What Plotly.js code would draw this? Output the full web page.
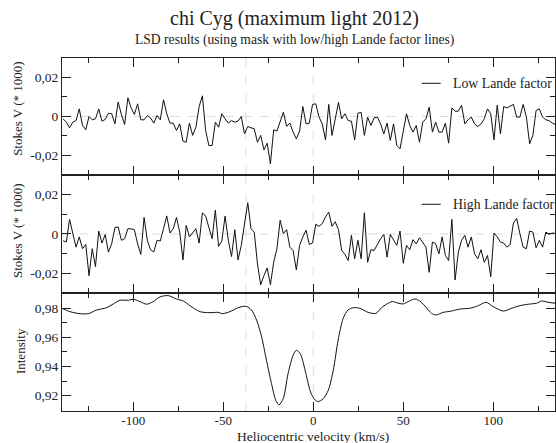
<!DOCTYPE html>
<html>
<head>
<meta charset="utf-8">
<script src="https://cdn.plot.ly/plotly-3.0.1.min.js"></script>
<style>html,body{margin:0;padding:0;background:#fff;}#chart{width:556px;height:443px;}</style>
</head>
<body>
<div id="chart"></div>
<script>
// ---- data ----
const velocity = [-139.0,-137.2,-135.4,-133.6,-131.8,-130.0,-128.2,-126.4,-124.6,-122.8,-121.0,-119.2,-117.4,-115.6,-113.8,-112.0,-110.2,-108.4,-106.6,-104.8,-103.0,-101.2,-99.4,-97.6,-95.8,-94.0,-92.2,-90.4,-88.6,-86.8,-85.0,-83.2,-81.4,-79.6,-77.8,-76.0,-74.2,-72.4,-70.6,-68.8,-67.0,-65.2,-63.4,-61.6,-59.8,-58.0,-56.2,-54.4,-52.6,-50.8,-49.0,-47.2,-45.4,-43.6,-41.8,-40.0,-38.2,-36.4,-34.6,-32.8,-31.0,-29.2,-27.4,-25.6,-23.8,-22.0,-20.2,-18.4,-16.6,-14.8,-13.0,-11.2,-9.4,-7.6,-5.8,-4.0,-2.2,-0.4,1.4,3.2,5.0,6.8,8.6,10.4,12.2,14.0,15.8,17.6,19.4,21.2,23.0,24.8,26.6,28.4,30.2,32.0,33.8,35.6,37.4,39.2,41.0,42.8,44.6,46.4,48.2,50.0,51.8,53.6,55.4,57.2,59.0,60.8,62.6,64.4,66.2,68.0,69.8,71.6,73.4,75.2,77.0,78.8,80.6,82.4,84.2,86.0,87.8,89.6,91.4,93.2,95.0,96.8,98.6,100.4,102.2,104.0,105.8,107.6,109.4,111.2,113.0,114.8,116.6,118.4,120.2,122.0,123.8,125.6,127.4,129.2,131.0,132.8,134.6];

const lowLande = [-0.0012,-0.0029,-0.0058,-0.0029,-0.0021,0.0039,-0.0046,-0.0068,0.0000,-0.0017,-0.0012,0.0039,-0.0024,-0.0015,0.0017,0.0014,-0.0038,0.0074,0.0010,-0.0041,0.0096,0.0044,0.0010,0.0065,-0.0017,-0.0017,0.0005,-0.0007,-0.0034,0.0005,-0.0017,0.0086,0.0014,-0.0034,-0.0034,-0.0072,-0.0038,-0.0127,-0.0132,-0.0034,-0.0097,-0.0055,0.0051,0.0106,-0.0072,-0.0149,-0.0149,-0.0029,-0.0055,0.0014,-0.0012,-0.0034,-0.0021,-0.0029,-0.0024,0.0000,-0.0089,-0.0051,-0.0058,-0.0063,-0.0132,-0.0097,-0.0171,-0.0137,-0.0243,-0.0068,-0.0075,-0.0029,0.0022,-0.0051,-0.0034,-0.0080,-0.0115,-0.0075,0.0051,-0.0038,-0.0034,0.0062,0.0065,-0.0003,-0.0038,-0.0120,0.0062,-0.0097,-0.0003,0.0072,-0.0012,0.0014,-0.0021,-0.0024,-0.0120,0.0017,0.0021,-0.0097,-0.0003,-0.0046,-0.0007,-0.0003,-0.0038,-0.0089,-0.0034,-0.0123,-0.0038,-0.0149,-0.0166,-0.0080,0.0014,-0.0046,-0.0080,-0.0046,-0.0132,-0.0029,-0.0012,0.0048,-0.0080,-0.0029,-0.0080,-0.0080,-0.0034,-0.0137,0.0044,0.0027,0.0027,0.0058,-0.0038,-0.0017,-0.0003,-0.0038,-0.0051,-0.0038,-0.0012,0.0039,0.0014,-0.0120,0.0058,-0.0089,0.0051,0.0044,0.0051,0.0062,-0.0003,-0.0003,0.0062,-0.0003,-0.0140,-0.0097,0.0031,0.0039,-0.0003,-0.0017,-0.0021,-0.0034,-0.0041];

const highLande = [-0.0034,-0.0041,0.0074,0.0002,-0.0067,-0.0015,-0.0075,-0.0053,-0.0212,-0.0075,-0.0166,0.0015,-0.0046,-0.0003,-0.0092,-0.0050,0.0032,0.0036,-0.0032,-0.0024,0.0027,0.0026,0.0022,-0.0050,-0.0104,0.0084,-0.0032,-0.0080,-0.0092,-0.0032,-0.0036,0.0027,0.0092,0.0005,0.0027,0.0084,0.0010,-0.0132,0.0044,-0.0015,0.0005,0.0027,-0.0046,0.0108,0.0091,0.0039,-0.0024,0.0121,-0.0063,-0.0036,0.0091,-0.0032,-0.0115,0.0022,-0.0132,-0.0058,0.0044,0.0159,0.0027,0.0010,-0.0152,-0.0258,-0.0212,-0.0173,-0.0258,-0.0144,-0.0075,0.0070,0.0002,0.0022,-0.0067,-0.0084,-0.0183,-0.0058,-0.0015,0.0019,-0.0053,-0.0046,0.0050,0.0039,0.0053,0.0087,0.0111,0.0039,0.0062,0.0022,-0.0084,-0.0104,-0.0135,-0.0007,-0.0126,-0.0032,-0.0126,0.0108,-0.0144,-0.0080,-0.0084,-0.0053,-0.0024,-0.0002,-0.0118,-0.0002,-0.0032,-0.0058,0.0015,-0.0149,-0.0058,-0.0080,-0.0029,-0.0050,-0.0019,-0.0046,-0.0067,-0.0195,-0.0041,-0.0050,-0.0101,-0.0015,-0.0109,-0.0135,0.0074,-0.0234,-0.0092,-0.0032,-0.0007,-0.0067,-0.0015,-0.0101,-0.0126,-0.0080,-0.0144,-0.0109,-0.0217,0.0005,-0.0015,-0.0041,-0.0046,-0.0067,-0.0053,0.0056,0.0079,0.0002,-0.0067,-0.0075,0.0015,0.0010,-0.0070,-0.0032,-0.0067,0.0010,-0.0002,0.0005,0.0002];

const intensityVelocity = [-139.6,-135.2,-129.6,-125.0,-120.4,-114.8,-111.1,-107.4,-102.8,-100.0,-96.3,-92.6,-88.9,-85.2,-80.6,-76.0,-72.2,-68.5,-63.0,-57.4,-52.8,-50.4,-46.3,-41.7,-37.4,-34.3,-31.5,-28.7,-26.0,-23.2,-20.8,-19.0,-16.7,-14.0,-11.2,-9.3,-7.1,-4.1,-1.5,0.9,2.7,5.5,8.3,11.1,13.8,16.6,19.4,22.2,25.9,30.5,34.8,37.9,40.7,44.0,47.2,50.0,53.3,56.5,59.2,62.9,65.7,68.1,72.2,76.8,81.5,87.0,91.7,95.9,100.0,105.6,110.2,114.8,119.5,124.1,126.9,130.6,134.3];
const intensity = [0.9800,0.9777,0.9763,0.9763,0.9788,0.9804,0.9830,0.9855,0.9855,0.9862,0.9846,0.9828,0.9846,0.9878,0.9887,0.9864,0.9850,0.9818,0.9777,0.9770,0.9772,0.9763,0.9777,0.9804,0.9814,0.9788,0.9719,0.9604,0.9443,0.9283,0.9167,0.9138,0.9179,0.9352,0.9478,0.9512,0.9485,0.9352,0.9225,0.9172,0.9160,0.9179,0.9236,0.9374,0.9581,0.9730,0.9790,0.9804,0.9800,0.9772,0.9765,0.9804,0.9828,0.9846,0.9835,0.9830,0.9850,0.9864,0.9850,0.9804,0.9765,0.9754,0.9772,0.9781,0.9795,0.9800,0.9818,0.9841,0.9811,0.9781,0.9800,0.9818,0.9828,0.9835,0.9850,0.9841,0.9835];

const refVelocities = [-37.4, 0];
const xTickVals = [-100, -50, 0, 50, 100];
const xTickText = ['-100', '-50', '0', '50', '100'];
const stokesTickVals = [-0.02, 0, 0.02];
const stokesTickText = ['-0,02', '0', '0,02'];
const intTickVals = [0.92, 0.94, 0.96, 0.98];
const intTickText = ['0,92', '0,94', '0,96', '0,98'];
const legendLabels = ['Low Lande factor', 'High Lande factor'];

// ---- figure ----
const FONT = 'Liberation Serif, Times New Roman, Times, serif';
const TXT = '#222';
const LINE = {color: '#111', width: 1};

const traces = [
  {x: velocity, y: lowLande, xaxis: 'x3', yaxis: 'y3', mode: 'lines', line: LINE, name: legendLabels[0], showlegend: false, hoverinfo: 'skip'},
  {x: velocity, y: highLande, xaxis: 'x2', yaxis: 'y2', mode: 'lines', line: LINE, name: legendLabels[1], showlegend: false, hoverinfo: 'skip'},
  {x: intensityVelocity, y: intensity, xaxis: 'x', yaxis: 'y', mode: 'lines', line: {color: '#111', width: 1, shape: 'spline', smoothing: 0.8}, name: 'Intensity', showlegend: false, hoverinfo: 'skip'}
];

const XRANGE = [-139.6, 134.3];
function xAxis(anchor, labels) {
  return {
    range: XRANGE, anchor: anchor, showgrid: false, zeroline: false,
    showline: true, linecolor: '#222', linewidth: 1, mirror: 'allticks',
    ticks: 'inside', ticklen: 9, tickwidth: 1, tickcolor: '#222',
    tickmode: 'array', tickvals: xTickVals, ticktext: xTickText,
    showticklabels: labels, tickfont: {family: FONT, size: 13, color: TXT},
    ticklabelstandoff: -3,
    minor: {ticks: 'inside', ticklen: 5, tickwidth: 1, tickcolor: '#222', tick0: 0, dtick: 25, showgrid: false}
  };
}
function yAxis(anchor, domain, range, vals, text, minorDtick, minorTick0) {
  return {
    domain: domain, range: range, anchor: anchor, showgrid: false, zeroline: false,
    showline: true, linecolor: '#222', linewidth: 1, mirror: 'allticks',
    ticks: 'inside', ticklen: 9, tickwidth: 1, tickcolor: '#222',
    tickmode: 'array', tickvals: vals, ticktext: text,
    tickfont: {family: FONT, size: 13.5, color: TXT},
    minor: {ticks: 'inside', ticklen: 5, tickwidth: 1, tickcolor: '#222', tick0: minorTick0, dtick: minorDtick, showgrid: false}
  };
}

const shapes = [];
[['x', 'y'], ['x2', 'y2'], ['x3', 'y3']].forEach(function (p) {
  refVelocities.forEach(function (v) {
    shapes.push({type: 'line', layer: 'below', xref: p[0], x0: v, x1: v, yref: p[1] + ' domain', y0: 0, y1: 1,
      line: {color: '#dcdcdc', width: 1, dash: 'dash'}});
  });
});
['2', '3'].forEach(function (n) {
  shapes.push({type: 'line', layer: 'below', xref: 'x' + n + ' domain', x0: 0, x1: 1, yref: 'y' + n, y0: 0, y1: 0,
    line: {color: '#dcdcdc', width: 1, dash: 'dash'}});
});
// legend samples
const legendY = [0.9283, 0.5856];
legendY.forEach(function (yy) {
  shapes.push({type: 'line', xref: 'paper', yref: 'paper', x0: 0.7296, x1: 0.7682, y0: yy, y1: yy, line: {color: '#111', width: 1}});
});

const annotations = [
  {text: 'chi Cyg (maximum light 2012)', xref: 'paper', yref: 'paper', x: 0.4726, y: 1.113, xanchor: 'center', yanchor: 'middle', showarrow: false, font: {family: FONT, size: 20, color: TXT}},
  {text: 'LSD results (using mask with low/high Lande factor lines)', xref: 'paper', yref: 'paper', x: 0.4726, y: 1.051, xanchor: 'center', yanchor: 'middle', showarrow: false, font: {family: FONT, size: 13.6, color: TXT}},
  {text: 'Stokes V (* 1000)', xref: 'paper', yref: 'paper', x: -0.0892, y: 0.856, xanchor: 'center', yanchor: 'middle', textangle: -90, showarrow: false, font: {family: FONT, size: 13, color: TXT}},
  {text: 'Stokes V (* 1000)', xref: 'paper', yref: 'paper', x: -0.0892, y: 0.510, xanchor: 'center', yanchor: 'middle', textangle: -90, showarrow: false, font: {family: FONT, size: 13, color: TXT}},
  {text: 'Intensity', xref: 'paper', yref: 'paper', x: -0.083, y: 0.170, xanchor: 'center', yanchor: 'middle', textangle: -90, showarrow: false, font: {family: FONT, size: 13, color: TXT}},
  {text: 'Heliocentric velocity (km/s)', xref: 'paper', yref: 'paper', x: 0.5095, y: -0.071, xanchor: 'center', yanchor: 'middle', showarrow: false, font: {family: FONT, size: 13.5, color: TXT}},
  {text: legendLabels[0], xref: 'paper', yref: 'paper', x: 0.789, y: legendY[0], xanchor: 'left', yanchor: 'middle', showarrow: false, font: {family: FONT, size: 13.8, color: TXT}},
  {text: legendLabels[1], xref: 'paper', yref: 'paper', x: 0.789, y: legendY[1], xanchor: 'left', yanchor: 'middle', showarrow: false, font: {family: FONT, size: 13.8, color: TXT}}
];

const layout = {
  width: 556, height: 443,
  margin: {l: 62, r: 1, t: 58, b: 32, pad: 0},
  paper_bgcolor: '#fff', plot_bgcolor: '#fff',
  font: {family: FONT, color: TXT},
  showlegend: false,
  xaxis: xAxis('y', true),
  xaxis2: xAxis('y2', false),
  xaxis3: xAxis('y3', false),
  yaxis: yAxis('x', [0, 0.3343], [0.9095, 0.9905], intTickVals, intTickText, 0.01, 0.91),
  yaxis2: yAxis('x2', [0.3343, 0.6686], [-0.03, 0.03], stokesTickVals, stokesTickText, 0.01, 0),
  yaxis3: yAxis('x3', [0.6686, 1], [-0.03, 0.03], stokesTickVals, stokesTickText, 0.01, 0),
  shapes: shapes,
  annotations: annotations
};

Plotly.newPlot('chart', traces, layout, {displayModeBar: false, staticPlot: true});
</script>
</body>
</html>
